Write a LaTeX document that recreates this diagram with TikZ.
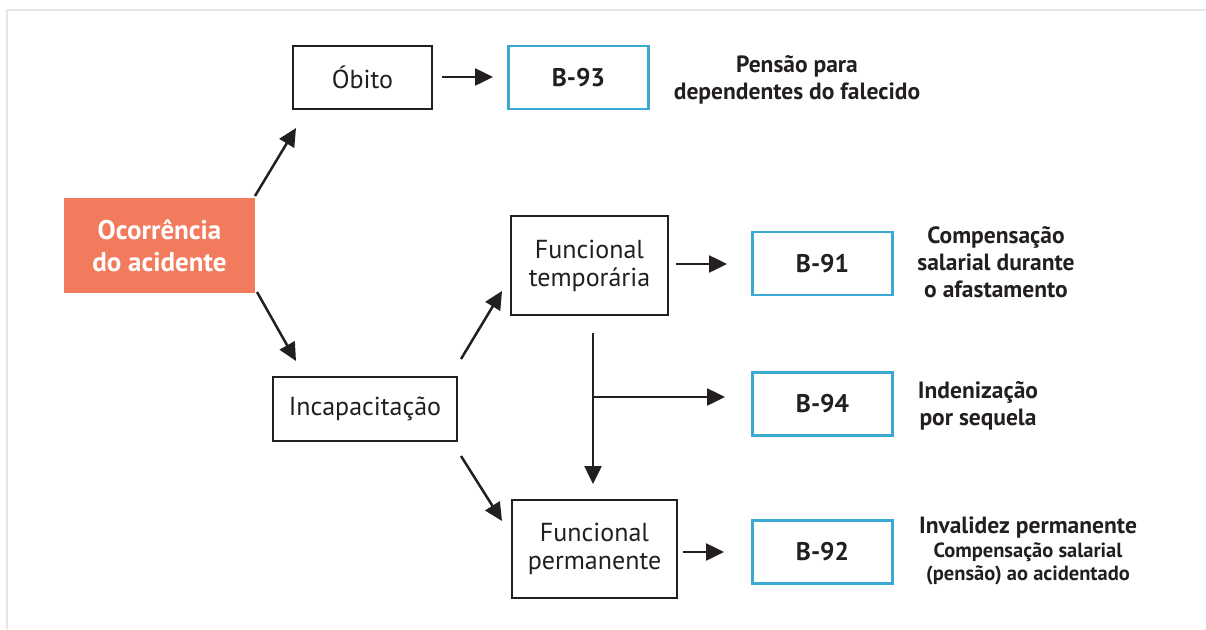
\documentclass[tikz,border=0pt]{standalone}
\usepackage{fontspec}
\setmainfont{PT Sans}
\usetikzlibrary{arrows.meta}
\definecolor{txt}{HTML}{231F20}
\definecolor{orng}{HTML}{F27A5D}
\definecolor{cyanb}{HTML}{3AAAD2}
\definecolor{frame}{HTML}{E6E6E6}
\tikzset{
  blackbox/.style={draw=txt, line width=2.5pt, fill=white, text=txt, align=center, inner sep=0pt, font=\fontsize{26}{28}\selectfont},
  bbox/.style={draw=cyanb, line width=2.5pt, fill=white, text=txt, align=center, inner sep=0pt, minimum width=140pt, minimum height=63pt, font=\bfseries\fontsize{25.5}{28}\selectfont},
  startbox/.style={fill=orng, draw=none, text=white, align=center, inner sep=0pt, font=\bfseries\fontsize{27}{32}\selectfont},
  lbl/.style={text=txt, align=center, inner sep=0pt, font=\bfseries\fontsize{23.5}{27}\selectfont},
  arr/.style={draw=txt, line width=2.5pt, -{Triangle[length=18pt,width=17pt]}},
  ln/.style={draw=txt, line width=2.5pt}
}
\begin{document}
\begin{tikzpicture}[x=1pt,y=-1pt]
\useasboundingbox (0,0) rectangle (1206,629);
\draw[frame, line width=1.5pt] (7,629) -- (7,10) -- (1206,10);

% nodes
\node[startbox, minimum width=191pt, minimum height=95pt] (occ) at (159.5,245.5) {Ocorrência\\do acidente};
\node[blackbox, minimum width=139pt, minimum height=63pt] (obito) at (362.5,77.5) {Óbito};
\node[bbox] (b93) at (578.5,77.5) {B-93};
\node[blackbox, minimum width=184pt, minimum height=64pt] (inc) at (365,409) {Incapacitação};
\node[blackbox, minimum width=157pt, minimum height=99pt] (ft) at (589.5,265.5) {Funcional\\temporária};
\node[blackbox, minimum width=165pt, minimum height=98pt] (fp) at (594.5,549) {Funcional\\permanente};
\node[bbox] (b91) at (822.5,263.5) {B-91};
\node[bbox] (b94) at (822.5,404) {B-94};
\node[bbox] (b92) at (822.5,552) {B-92};

% labels
\node[lbl] (l93) at (797,80) {Pensão para\\dependentes do falecido};
\node[lbl] (l91) at (996,262) {Compensação\\salarial durante\\o afastamento};
\node[lbl] (l94) at (978,406) {Indenização\\por sequela};
\node[lbl, font=\bfseries\fontsize{23.5}{25}\selectfont] (l92a) at (1028,527) {Invalidez permanente};
\node[lbl, font=\bfseries\fontsize{20.5}{23}\selectfont] (l92b) at (1028,564) {Compensação salarial\\(pensão) ao acidentado};

% connector end points
\coordinate (occN) at (255,196);
\coordinate (obS) at (296,128);
\coordinate (occS) at (257,292);
\coordinate (incN) at (296,361);
\coordinate (incNE) at (461,359);
\coordinate (ftSW) at (502,291);
\coordinate (incSE) at (461,456);
\coordinate (fpNW) at (502,521);
\coordinate (obE) at (442,77);
\coordinate (b93W) at (493,77);
\coordinate (ftE) at (676,264);
\coordinate (b91W) at (727,264);
\coordinate (ftS) at (593,333);
\coordinate (fpN) at (593,484);
\coordinate (br) at (593,397);
\coordinate (b94W) at (725,397);
\coordinate (fpE) at (683,552);
\coordinate (b92W) at (724,552);

% connectors
\draw[arr] (occN) -- (obS);
\draw[arr] (occS) -- (incN);
\draw[arr] (incNE) -- (ftSW);
\draw[arr] (incSE) -- (fpNW);
\draw[arr] (obE) -- (b93W);
\draw[arr] (ftE) -- (b91W);
\draw[arr] (ftS) -- (fpN);
\draw[arr] (br) -- (b94W);
\draw[arr] (fpE) -- (b92W);
\end{tikzpicture}
\end{document}
